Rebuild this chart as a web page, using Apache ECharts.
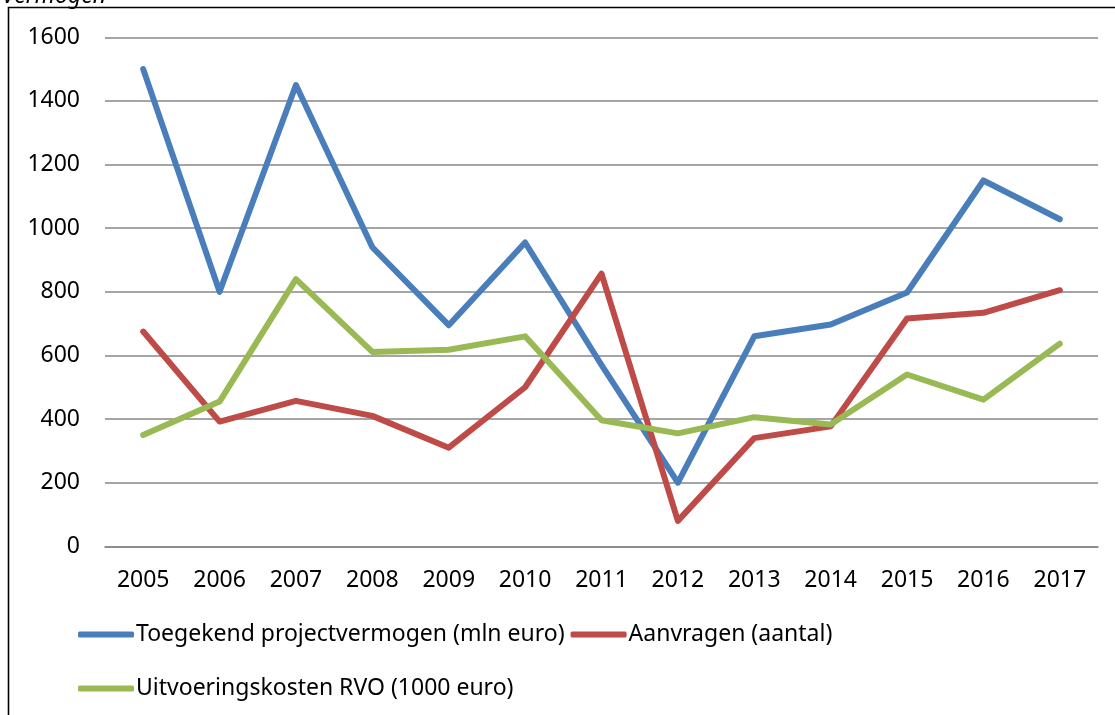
<!DOCTYPE html>
<html>
<head>
<meta charset="utf-8">
<style>
  html, body { margin: 0; padding: 0; background: #fff; }
  #chart { width: 1115px; height: 715px; }
</style>
<script src="https://cdn.jsdelivr.net/npm/echarts@6/dist/echarts.min.js"></script>
</head>
<body>
<div id="chart"></div>
<script>
// Jaartallen op de x-as
const years = ['2005', '2006', '2007', '2008', '2009', '2010', '2011', '2012', '2013', '2014', '2015', '2016', '2017'];

// Toegekend projectvermogen (mln euro)
const projectvermogen = [1500, 800, 1450, 940, 695, 955, 570, 200, 660, 697, 798, 1150, 1028];
// Aanvragen (aantal)
const aanvragen = [675, 392, 457, 410, 310, 500, 857, 80, 340, 377, 716, 734, 805];
// Uitvoeringskosten RVO (1000 euro)
const uitvoeringskosten = [350, 455, 840, 611, 618, 660, 396, 355, 406, 383, 540, 461, 637];

const seriesNames = [
  'Toegekend projectvermogen (mln euro)',
  'Aanvragen (aantal)',
  'Uitvoeringskosten RVO (1000 euro)'
];
const colors = ['#4A7EBB', '#BE4B48', '#98B954'];
const FONT = 'Noto Sans';
const FONT_SIZE = 23;

const chart = echarts.init(document.getElementById('chart'), null, { renderer: 'canvas' });

const legendCommon = {
  orient: 'horizontal',
  icon: 'roundRect',
  itemWidth: 56,
  itemHeight: 6,
  itemGap: 6,
  padding: 0,
  textStyle: { fontFamily: FONT, fontSize: FONT_SIZE, color: '#000', padding: [0, 0, 0, -3] }
};

function line(name, data, color) {
  return {
    name: name,
    type: 'line',
    data: data,
    symbol: 'none',
    smooth: false,
    color: color,
    lineStyle: { width: 6, color: color, cap: 'round', join: 'round' },
    itemStyle: { color: color },
    emphasis: { disabled: true },
    animation: false
  };
}

chart.setOption({
  backgroundColor: '#fff',
  animation: false,
  graphic: [
    {
      type: 'rect',
      shape: { x: 8.5, y: 7.5, width: 1200, height: 800 },
      style: { fill: 'none', stroke: '#000', lineWidth: 1.6 },
      silent: true
    },
    {
      type: 'text',
      left: 2,
      top: -15,
      style: {
        text: 'Vermogen',
        fontFamily: FONT,
        fontStyle: 'italic',
        fontSize: FONT_SIZE,
        fill: '#000'
      },
      silent: true
    }
  ],
  grid: { left: 105, right: 17, top: 37.3, bottom: 168.7, containLabel: false },
  xAxis: {
    type: 'category',
    data: years,
    boundaryGap: true,
    axisLine: { show: true, lineStyle: { color: '#878787', width: 1.6 } },
    axisTick: { show: false },
    axisLabel: { fontFamily: FONT, fontSize: FONT_SIZE, color: '#000', margin: 23 },
    splitLine: { show: false }
  },
  yAxis: {
    type: 'value',
    min: 0,
    max: 1600,
    interval: 200,
    axisLine: { show: false },
    axisTick: { show: false },
    axisLabel: {
      fontFamily: FONT,
      fontSize: FONT_SIZE,
      color: '#000',
      margin: 25,
      formatter: function (v) { return String(v); }
    },
    splitLine: { show: true, lineStyle: { color: '#878787', width: 1.6 } }
  },
  legend: [
    Object.assign({}, legendCommon, { left: 78, top: 623, data: [seriesNames[0], seriesNames[1]] }),
    Object.assign({}, legendCommon, { left: 78, top: 677, data: [seriesNames[2]] })
  ],
  series: [
    line(seriesNames[0], projectvermogen, colors[0]),
    line(seriesNames[1], aanvragen, colors[1]),
    line(seriesNames[2], uitvoeringskosten, colors[2])
  ]
});
</script>
</body>
</html>
